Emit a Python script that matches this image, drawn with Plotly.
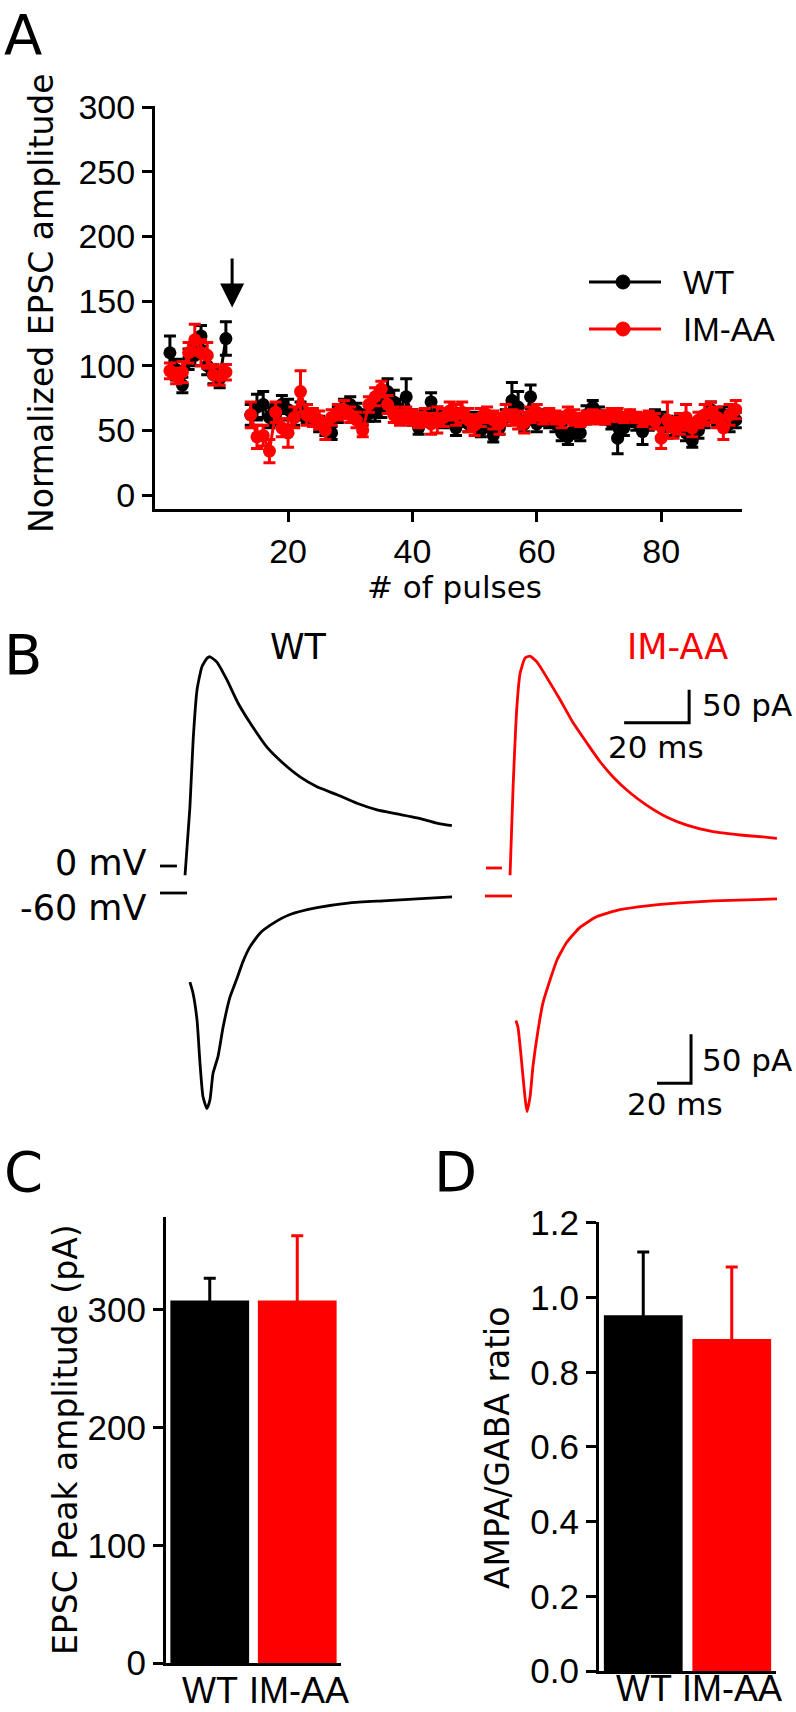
import plotly.graph_objects as go

# ---------------- DATA ----------------
# Panel A: normalized EPSC amplitude (%), mean and SEM
PULSES_PRE = list(range(1, 11))
PULSES_POST = list(range(14, 93))

WT_PRE = [110, 97, 85, 105, 108, 123, 100, 93, 90, 121]
WT_PRE_ERR = [13, 8, 6, 8, 8, 8, 7, 7, 7, 13]
IM_PRE = [96, 92, 95, 110, 120, 110, 108, 93, 92, 95]
IM_PRE_ERR = [6, 6, 8, 8, 12, 10, 10, 8, 7, 6]

WT_POST = [62, 68, 70, 60, 62, 70, 66, 60, 65, 63,
           60, 55, 52, 48, 62, 68, 70, 65, 60, 63,
           64, 68, 80, 72, 66, 76, 60, 52, 60, 72,
           62, 58, 60, 52, 60, 55, 58, 50, 54, 46,
           52, 60, 73, 68, 55, 76, 55, 60, 58, 55,
           48, 45, 50, 48, 62, 68, 62, 60, 56, 44,
           52, 58, 56, 49, 56, 60, 58, 55, 52, 55,
           48, 42, 50, 58, 66, 60, 62, 55, 58]
WT_POST_ERR = [8, 10, 10, 8, 8, 7, 8, 6, 7, 7,
               6, 6, 6, 5, 6, 6, 6, 6, 6, 6,
               7, 8, 10, 9, 8, 14, 6, 5, 6, 7,
               6, 6, 6, 6, 7, 6, 6, 5, 5, 5,
               5, 6, 14, 12, 6, 9, 6, 6, 6, 6,
               6, 6, 6, 6, 7, 5, 6, 5, 5, 12,
               6, 5, 6, 10, 6, 6, 6, 6, 6, 6,
               6, 5, 6, 6, 6, 6, 6, 6, 6]
IM_POST = [62, 45, 46, 34, 64, 52, 48, 60, 80, 62,
           60, 58, 50, 60, 64, 66, 62, 58, 50, 70,
           76, 82, 70, 62, 60, 62, 60, 58, 60, 55,
           58, 60, 65, 62, 64, 58, 54, 60, 62, 58,
           55, 62, 60, 58, 56, 62, 64, 60, 62, 60,
           58, 62, 60, 58, 60, 61, 60, 60, 62, 62,
           60, 62, 60, 58, 60, 57, 44, 58, 52, 55,
           60, 52, 58, 62, 64, 60, 52, 62, 66]
IM_POST_ERR = [10, 9, 8, 9, 8, 7, 11, 8, 16, 8,
               7, 7, 7, 6, 6, 7, 6, 6, 5, 6,
               7, 6, 7, 6, 6, 6, 6, 6, 7, 8,
               10, 7, 7, 8, 8, 9, 8, 7, 6, 7,
               8, 8, 6, 7, 8, 6, 6, 5, 5, 5,
               6, 6, 6, 5, 5, 5, 5, 5, 5, 5,
               4, 4, 4, 5, 5, 6, 8, 14, 8, 8,
               10, 7, 6, 8, 8, 8, 9, 8, 7]
STIM_PULSE = 11
STIM_ARROW = (184, 145)  # arrow tail / tip value

# Panel B: example traces (time in ms, current in pA)
WT_UP_BASE_T = [0, 5.2]
WT_UP_BASE_I = [0, 0]
WT_UP_T = [7.7, 9.2, 10.2, 11.4, 12.9, 14.5, 15.4, 17.5, 20.6, 24.0, 27.7, 32.9,
           37.8, 43.1, 48.3, 54.5, 60.6, 66.8, 72.9, 79.1, 85.2, 89.8]
WT_UP_I = [-14, 89, 191, 267, 302, 315, 317, 309, 282, 247, 217, 180,
           156, 135, 120, 108, 95, 85, 79, 73, 65, 61]

IM_UP_BASE_T = [0, 4.9]
IM_UP_BASE_I = [0, 0]
IM_UP_T = [7.4, 8.3, 9.5, 10.5, 12.0, 13.5, 15.7, 18.8, 22.8, 26.8, 31.1, 35.1,
           39.1, 44.3, 49.5, 55.7, 61.8, 69.8, 78.2, 85.2, 89.5]
IM_UP_I = [-11, 118, 244, 295, 318, 321, 312, 288, 255, 220, 189, 161,
           138, 114, 95, 77, 65, 55, 50, 47, 45]

WT_LO_BASE_T = [0, 15.9]
WT_LO_BASE_I = [0, 0]
WT_LO_T = [17.6, 19.4, 21.8, 23.5, 25.3, 27.6, 29.4, 31.2, 34.1, 37.1, 41.2, 45.3,
           48.8, 52.9, 58.8, 66.5, 76.5, 92.4, 111.8, 131.2, 151.2, 171.8]
WT_LO_I = [-91, -102, -130, -173, -208, -220, -211, -184, -167, -137, -106, -87,
           -70, -55, -41, -31, -22, -15, -10, -8, -6, -4]

IM_LO_BASE_T = [0, 15.9]
IM_LO_BASE_I = [0, 0]
IM_LO_T = [18.2, 19.4, 21.8, 23.5, 24.7, 26.5, 28.2, 31.2, 34.1, 38.2, 42.4, 48.2,
           55.9, 65.9, 79.4, 95.3, 114.7, 134.1, 154.1, 171.8]
IM_LO_I = [-127, -134, -174, -205, -220, -205, -174, -137, -109, -86, -65, -47,
           -32, -21, -14, -10, -7, -5, -4, -3]

SCALE_MS = 20
SCALE_PA = 50
UP_BAR_CORNER = (62.5, 220)
LO_BAR_CORNER = (121.2, -191)

# Panels C and D
GROUPS = ["WT", "IM-AA"]
PEAK_AMP = [308, 308]
PEAK_AMP_SEM = [19, 55]
RATIO = [0.953, 0.889]
RATIO_SEM = [0.169, 0.193]

# ---------------- STYLE / LAYOUT ----------------
W, H = 796, 1712
RED = "#ff0000"
BLACK = "#000000"
TXT = "DejaVu Sans"
TICK = "Liberation Sans"
COLORS = [BLACK, RED]


def px(x):
    return x / W


def py(y):
    return 1 - y / H


def join(a, b):
    return list(a) + [None] + list(b)


fig = go.Figure()

# ---- Panel A ----
series = [
    ("WT", WT_PRE, WT_PRE_ERR, WT_POST, WT_POST_ERR, BLACK),
    ("IM-AA", IM_PRE, IM_PRE_ERR, IM_POST, IM_POST_ERR, RED),
]
for name, pre, pre_e, post, post_e, col in series:
    fig.add_trace(go.Scatter(
        x=join(PULSES_PRE, PULSES_POST), y=join(pre, post),
        error_y=dict(type="data", array=list(pre_e) + [0] + list(post_e),
                     color=col, thickness=3, width=6),
        mode="lines+markers", connectgaps=False, name=name,
        line=dict(color=col, width=3), marker=dict(color=col, size=13),
        showlegend=False, xaxis="x", yaxis="y"))

# ---- Panel B traces ----
def trace_pair(bt, bi, t, i, col, ax):
    fig.add_trace(go.Scatter(x=join(bt, t), y=join(bi, i), mode="lines",
                             line=dict(color=col, width=2.8, shape="spline", smoothing=0.5),
                             connectgaps=False, showlegend=False,
                             xaxis="x" + ax, yaxis="y" + ax, hoverinfo="skip"))

trace_pair(WT_UP_BASE_T, WT_UP_BASE_I, WT_UP_T, WT_UP_I, BLACK, "2")
trace_pair(IM_UP_BASE_T, IM_UP_BASE_I, IM_UP_T, IM_UP_I, RED, "3")
trace_pair(WT_LO_BASE_T, WT_LO_BASE_I, WT_LO_T, WT_LO_I, BLACK, "4")
trace_pair(IM_LO_BASE_T, IM_LO_BASE_I, IM_LO_T, IM_LO_I, RED, "5")

for (cx, cy), ax in [(UP_BAR_CORNER, "3"), (LO_BAR_CORNER, "5")]:
    fig.add_trace(go.Scatter(x=[cx - SCALE_MS, cx, cx], y=[cy, cy, cy + SCALE_PA],
                             mode="lines", line=dict(color=BLACK, width=3),
                             showlegend=False, xaxis="x" + ax, yaxis="y" + ax))

# ---- Panels C, D ----
# lower half of each error bar is tucked just inside the bar so only the upper cap shows
HIDE_C = 4.0
HIDE_D = 0.012
for k, g in enumerate(GROUPS):
    fig.add_trace(go.Bar(x=[g], y=[PEAK_AMP[k]], width=0.9, marker=dict(color=COLORS[k], line=dict(width=0)),
                         error_y=dict(type="data", symmetric=False, array=[PEAK_AMP_SEM[k]], arrayminus=[HIDE_C],
                                      color=COLORS[k], thickness=3, width=6),
                         showlegend=False, xaxis="x6", yaxis="y6"))
    fig.add_trace(go.Bar(x=[g], y=[RATIO[k]], width=0.89, marker=dict(color=COLORS[k], line=dict(width=0)),
                         error_y=dict(type="data", symmetric=False, array=[RATIO_SEM[k]], arrayminus=[HIDE_D],
                                      color=COLORS[k], thickness=3, width=6),
                         showlegend=False, xaxis="x7", yaxis="y7"))

axis_common = dict(showgrid=False, zeroline=False, showline=True, linecolor=BLACK, linewidth=3,
                   tickcolor=BLACK, tickwidth=3, ticklen=10, ticks="outside", automargin=False,
                   tickfont=dict(family=TICK, size=34, color=BLACK), fixedrange=True)
hidden = dict(visible=False, showgrid=False, zeroline=False, fixedrange=True, automargin=False)


def b_axes(domx, domy, origin, sx, sy):
    ox, oy = origin
    xr = [(domx[0] - ox) / sx, (domx[1] - ox) / sx]
    yr = [(oy - domy[1]) / sy, (oy - domy[0]) / sy]
    return (dict(hidden, domain=[px(domx[0]), px(domx[1])], range=xr),
            dict(hidden, domain=[py(domy[1]), py(domy[0])], range=yr))

x2, y2 = b_axes((150, 470), (630, 890), (160, 866), 3.25, 0.66)
x3, y3 = b_axes((476, 796), (630, 890), (486, 868), 3.25, 0.66)
x4, y4 = b_axes((150, 470), (885, 1130), (160, 893), 1.7, 0.98)
x5, y5 = b_axes((476, 796), (885, 1130), (485, 896), 1.7, 0.98)

fig.update_layout(
    template="none",
    width=W, height=H, margin=dict(l=0, r=0, t=0, b=0, pad=0, autoexpand=False),
    paper_bgcolor="white", plot_bgcolor="white", barmode="overlay",
    showlegend=False,
    xaxis=dict(axis_common, domain=[px(155), px(742)], range=[-1.4, 93.0],
               tickvals=[20, 40, 60, 80], anchor="y"),
    yaxis=dict(axis_common, domain=[py(509), py(106)], range=[-10.8, 300.8],
               tickvals=[0, 50, 100, 150, 200, 250, 300], anchor="x"),
    xaxis2=dict(x2, anchor="y2"), yaxis2=dict(y2, anchor="x2"),
    xaxis3=dict(x3, anchor="y3"), yaxis3=dict(y3, anchor="x3"),
    xaxis4=dict(x4, anchor="y4"), yaxis4=dict(y4, anchor="x4"),
    xaxis5=dict(x5, anchor="y5"), yaxis5=dict(y5, anchor="x5"),
    xaxis6=dict(axis_common, domain=[px(166), px(341)], type="category", range=[-0.5, 1.5],
                ticks="", showticklabels=False, anchor="y6"),
    yaxis6=dict(axis_common, domain=[py(1663), py(1217)], range=[0, 379],
                tickvals=[0, 100, 200, 300], tickfont=dict(family=TICK, size=35, color=BLACK), anchor="x6"),
    xaxis7=dict(axis_common, domain=[px(599), px(776)], type="category", range=[-0.5, 1.5],
                ticks="", showticklabels=False, anchor="y7"),
    yaxis7=dict(axis_common, domain=[py(1671), py(1222)], range=[0, 1.2025],
                tickvals=[0, 0.2, 0.4, 0.6, 0.8, 1.0, 1.2], tickformat=".1f",
                tickfont=dict(family=TICK, size=35, color=BLACK), anchor="x7"),
)


def ann(text, x, y, size, color=BLACK, xanchor="center", family=TXT, angle=0, yanchor="middle"):
    fig.add_annotation(text=text, x=px(x), y=py(y), xref="paper", yref="paper",
                       xanchor=xanchor, yanchor=yanchor, showarrow=False, textangle=angle,
                       font=dict(family=family, size=size, color=color))

# panel letters
ann("A", 2, 0, 56, xanchor="left", yanchor="top")
ann("B", 2, 620, 56, xanchor="left", yanchor="top")
ann("C", 2, 1137, 56, xanchor="left", yanchor="top")
ann("D", 432, 1137, 56, xanchor="left", yanchor="top")

# panel A titles
ann("Normalized EPSC amplitude", 41, 303, 33, angle=-90)
ann("# of pulses", 455, 587, 31)

# legend panel A
for (label, col, yy) in [("WT", BLACK, 282), ("IM-AA", RED, 329)]:
    fig.add_shape(type="line", xref="paper", yref="paper", x0=px(589), x1=px(661), y0=py(yy), y1=py(yy),
                  line=dict(color=col, width=3))
    fig.add_shape(type="circle", xref="paper", yref="paper", x0=px(616), x1=px(630),
                  y0=py(yy + 7), y1=py(yy - 7), fillcolor=col, line=dict(color=col, width=1))
    ann(label, 681, yy, 33, xanchor="left", family=TICK)

# stimulation arrow
fig.add_annotation(x=STIM_PULSE, y=STIM_ARROW[1], ax=STIM_PULSE, ay=STIM_ARROW[0],
                   xref="x", yref="y", axref="x", ayref="y", showarrow=True,
                   arrowhead=2, arrowsize=1.6, arrowwidth=3, arrowcolor=BLACK, text="")

# panel B labels
ann("WT", 298, 647, 35)
ann("IM-AA", 677, 647, 35, color=RED)
ann("0 mV", 148, 863, 35, xanchor="right")
ann("-60 mV", 148, 908, 35, xanchor="right")
ann("50 pA", 794, 705, 31, xanchor="right")
ann("20 ms", 656, 747, 31)
ann("50 pA", 794, 1060, 31, xanchor="right")
ann("20 ms", 675, 1104, 31)

# panel C, D titles
ann("EPSC Peak amplitude (pA)", 65, 1440, 33, angle=-90)
ann("AMPA/GABA ratio", 497, 1448, 33, angle=-90)

# category labels under the bars
for k, g in enumerate(GROUPS):
    ann(g, [210, 299][k], 1690, 36, family=TICK)
    ann(g, [644, 732][k], 1688, 36, family=TICK)

fig.write_html("out.html", config={"displayModeBar": False},
               post_script="document.body.style.margin='0';")
